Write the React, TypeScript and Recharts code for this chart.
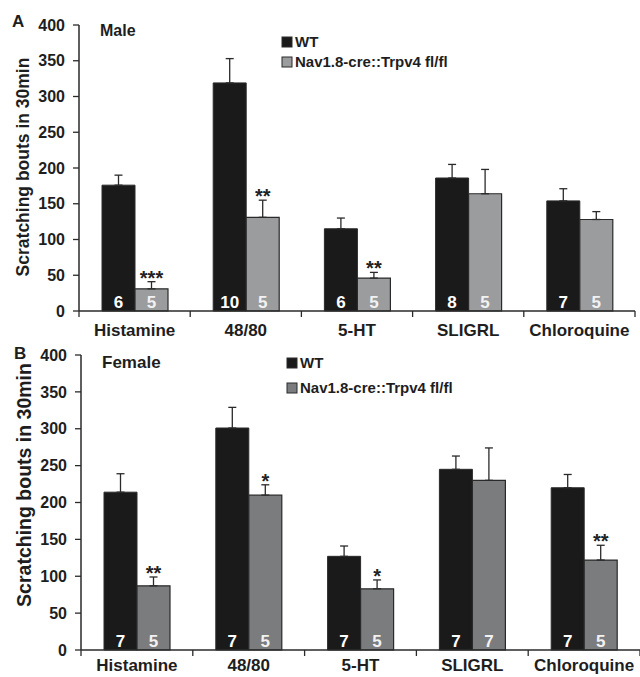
import React from 'react';
import { ComposedChart, Bar, XAxis, YAxis, ErrorBar, LabelList } from 'recharts';

const FONT = '"Liberation Sans", Arial, Helvetica, sans-serif';

const categories = ['Histamine', '48/80', '5-HT', 'SLIGRL', 'Chloroquine'];
const yTicks = [0, 50, 100, 150, 200, 250, 300, 350, 400];

// Male (panel A)
const maleWT = [176, 319, 115, 186, 154];
const maleWTErr = [14, 34, 15, 19, 17];
const maleKO = [31, 131, 46, 164, 128];
const maleKOErr = [10, 24, 8, 34, 11];
const maleWTN = ['6', '10', '6', '8', '7'];
const maleKON = ['5', '5', '5', '5', '5'];
const maleSig = ['***', '**', '**', '', ''];

// Female (panel B)
const femaleWT = [214, 301, 127, 245, 220];
const femaleWTErr = [25, 28, 14, 18, 18];
const femaleKO = [87, 210, 83, 230, 122];
const femaleKOErr = [12, 14, 12, 44, 20];
const femaleWTN = ['7', '7', '7', '7', '7'];
const femaleKON = ['5', '5', '5', '7', '5'];
const femaleSig = ['**', '*', '*', '', '**'];

const buildRows = (wt, wtErr, ko, koErr, wtN, koN, sig) =>
  categories.map((name, i) => ({
    name,
    wt: wt[i],
    wtE: [0, wtErr[i]],
    ko: ko[i],
    koE: [0, koErr[i]],
    koErr: koErr[i],
    wtN: wtN[i],
    koN: koN[i],
    sig: sig[i],
  }));

const maleRows = buildRows(maleWT, maleWTErr, maleKO, maleKOErr, maleWTN, maleKON, maleSig);
const femaleRows = buildRows(femaleWT, femaleWTErr, femaleKO, femaleKOErr, femaleWTN, femaleKON, femaleSig);

const AXIS = '#2a2a2a';

const CategoryTick = ({ x, y, payload, index, bw, dy }: any) => (
  <g>
    <line x1={x - bw / 2} y1={y} x2={x - bw / 2} y2={y + 6} stroke={AXIS} strokeWidth={1.3} />
    {index === categories.length - 1 && (
      <line x1={x + bw / 2} y1={y} x2={x + bw / 2} y2={y + 6} stroke={AXIS} strokeWidth={1.3} />
    )}
    <text x={x} y={y + dy} textAnchor="middle" fontSize={17} fontWeight="bold" fill="#1e1e1e" fontFamily={FONT}>
      {payload.value}
    </text>
  </g>
);

const Panel = ({ rows, top, height, marginTop, marginRight, yWidth, koFill, labelDy, overlay }: any) => {
  const bw = (640 - yWidth - marginRight) / categories.length;
  const sigLabel = (props: any) => {
    const { x, y, width, height: h, index } = props;
    const row = rows[index];
    if (!row || !row.sig) return null;
    const ppu = h / row.ko;
    const errTop = y - row.koErr * ppu;
    return (
      <text x={x + width / 2} y={errTop + 3} textAnchor="middle" fontSize={20} fontWeight="bold" fill="#222" fontFamily={FONT}>
        {row.sig}
      </text>
    );
  };
  return (
    <div style={{ position: 'absolute', left: 0, top, width: 640, height }}>
      <ComposedChart
        width={640}
        height={height}
        data={rows}
        barGap={0}
        margin={{ top: marginTop, right: marginRight, bottom: 0, left: 0 }}
        style={{ fontFamily: FONT }}
      >
        <XAxis
          dataKey="name"
          height={27}
          interval={0}
          tickSize={0}
          tickMargin={0}
          tickLine={false}
          axisLine={{ stroke: AXIS, strokeWidth: 1.5 }}
          tick={<CategoryTick bw={bw} dy={labelDy} />}
        />
        <YAxis
          width={yWidth}
          domain={[0, 400]}
          ticks={yTicks}
          interval={0}
          tickSize={6}
          tickMargin={8}
          axisLine={{ stroke: AXIS, strokeWidth: 1.5 }}
          tickLine={{ stroke: AXIS, strokeWidth: 1.3 }}
          tick={{ fontSize: 16, fontWeight: 'bold', fill: '#1e1e1e', fontFamily: FONT }}
        />
        <Bar dataKey="wt" fill="#1b1a1b" stroke="#2a2a2a" strokeWidth={1} barSize={33} isAnimationActive={false}>
          <ErrorBar dataKey="wtE" direction="y" width={4} stroke="#2a2a2a" strokeWidth={1.3} isAnimationActive={false} />
          <LabelList dataKey="wtN" position="insideBottom" offset={3} fill="#ffffff" fontSize={17} fontWeight="bold" fontFamily={FONT} />
        </Bar>
        <Bar dataKey="ko" fill={koFill} stroke="#2a2a2a" strokeWidth={1.2} barSize={33} isAnimationActive={false}>
          <ErrorBar dataKey="koE" direction="y" width={4} stroke="#2a2a2a" strokeWidth={1.3} isAnimationActive={false} />
          <LabelList dataKey="koN" position="insideBottom" offset={3} fill="#f2f2f2" fontSize={17} fontWeight="bold" fontFamily={FONT} />
          <LabelList dataKey="sig" content={sigLabel} />
        </Bar>
      </ComposedChart>
      <svg width={640} height={height} style={{ position: 'absolute', left: 0, top: 0, pointerEvents: 'none', overflow: 'visible' }} fontFamily={FONT} fontWeight="bold">
        {overlay}
      </svg>
    </div>
  );
};

const Legend = ({ x, y1, y2, koFill }: any) => (
  <g>
    <rect x={x} y={y1 - 10} width={10} height={10} fill="#1b1a1b" stroke="#2a2a2a" />
    <text x={x + 13} y={y1} fontSize={15} fill="#1e1e1e">WT</text>
    <rect x={x} y={y2 - 10} width={10} height={10} fill={koFill} stroke="#2a2a2a" />
    <text x={x + 13} y={y2} fontSize={15} fill="#1e1e1e">Nav1.8-cre::Trpv4 fl/fl</text>
  </g>
);

export default function App() {
  const maleGray = '#9b9c9e';
  const femaleGray = '#7b7c7e';
  return (
    <div style={{ position: 'absolute', left: 0, top: 0, width: 640, height: 677, background: '#fff', fontFamily: FONT }}>
      <style>{'.recharts-surface { overflow: visible; }'}</style>
      <Panel
        rows={maleRows}
        top={0}
        height={338}
        marginTop={25}
        marginRight={5}
        yWidth={79}
        koFill={maleGray}
        labelDy={25}
        overlay={
          <g>
            <text x={12} y={27} fontSize={17} fill="#1e1e1e">A</text>
            <text x={100} y={36} fontSize={16} fill="#1e1e1e">Male</text>
            <Legend x={282} y1={47} y2={67} koFill={maleGray} />
            <text transform="translate(29,167) rotate(-90)" textAnchor="middle" fontSize={17.5} fill="#1e1e1e">
              Scratching bouts in 30min
            </text>
          </g>
        }
      />
      <Panel
        rows={femaleRows}
        top={338}
        height={339}
        marginTop={17}
        marginRight={0}
        yWidth={81}
        koFill={femaleGray}
        labelDy={21}
        overlay={
          <g>
            <text x={14} y={21} fontSize={17} fill="#1e1e1e">B</text>
            <text x={102} y={30} fontSize={17} fill="#1e1e1e">Female</text>
            <Legend x={287} y1={30} y2={55} koFill={femaleGray} />
            <text transform="translate(31,147) rotate(-90)" textAnchor="middle" fontSize={19.5} fill="#1e1e1e">
              Scratching bouts in 30min
            </text>
          </g>
        }
      />
    </div>
  );
}
